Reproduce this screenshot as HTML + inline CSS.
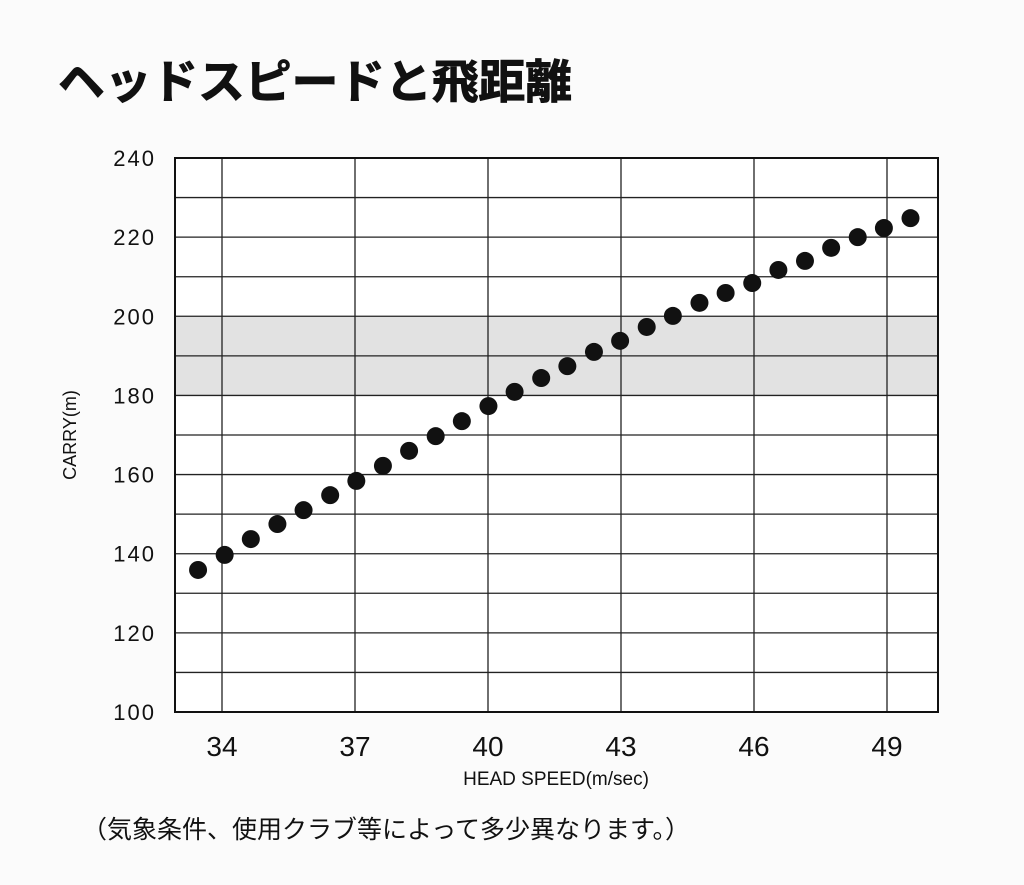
<!DOCTYPE html>
<html><head><meta charset="utf-8"><style>
body{margin:0;background:#fbfbfb;width:1024px;height:880px;overflow:hidden;font-family:"Liberation Sans","Noto Sans CJK JP",sans-serif;}
</style></head><body>
<svg width="1024" height="880">
<text x="58" y="98" font-size="46" font-weight="bold" textLength="514" lengthAdjust="spacingAndGlyphs" font-family="Liberation Sans, Noto Sans CJK JP, sans-serif" fill="#111" stroke="#111" stroke-width="1">ヘッドスピードと飛距離</text>
<g id="plot"></g>
<text x="76" y="435" font-size="18" fill="#111" transform="rotate(-90 76 435)" text-anchor="middle">CARRY(m)</text>
<text x="556" y="785" font-size="19" fill="#111" text-anchor="middle">HEAD SPEED(m/sec)</text>
<text x="82" y="838" font-size="25" fill="#111" font-family="Liberation Sans, Noto Sans CJK JP, sans-serif">（気象条件、使用クラブ等によって多少異なります。）</text>
</svg>
<script>
const speeds=[33.46,34.06,34.65,35.25,35.84,36.44,37.03,37.63,38.22,38.82,39.41,40.01,40.6,41.2,41.79,42.39,42.98,43.58,44.17,44.77,45.36,45.96,46.55,47.15,47.74,48.34,48.93,49.53];
const carry=[135.9,139.7,143.7,147.5,151,154.8,158.4,162.2,166,169.7,173.5,177.3,180.9,184.4,187.4,191,193.8,197.3,200.1,203.4,205.9,208.4,211.7,214,217.3,220,222.3,224.8];
const xTicks=[34,37,40,43,46,49];
const yTicks=[100,120,140,160,180,200,220,240];
const band=[180,200];
const L=175,R=938,T=158,B=712;
const x=v=>222+(v-34)*(887-222)/15;
const y=v=>B-(v-100)*(B-T)/140;
const g=document.getElementById('plot');
const NS='http://www.w3.org/2000/svg';
function mk(t,a){const e=document.createElementNS(NS,t);for(const k in a)e.setAttribute(k,a[k]);g.appendChild(e);return e;}
let e=mk('rect',{x:L,y:T,width:R-L,height:B-T,fill:'#fff'});


e=mk('rect',{x:L,y:y(band[1]),width:R-L,height:y(band[0])-y(band[1]),fill:'#e2e2e2'});


for(let v=110;v<240;v+=10){e=mk('line',{x1:L,x2:R,y1:y(v),y2:y(v),stroke:'#222','stroke-width':1.3});

}
xTicks.forEach(v=>{e=mk('line',{x1:x(v),x2:x(v),y1:T,y2:B,stroke:'#222','stroke-width':1.3});


e=mk('text',{x:x(v),y:756,'font-size':28,'text-anchor':'middle',fill:'#111'});e.textContent=v;

});
yTicks.forEach(v=>{e=mk('text',{x:156,y:y(v)+8,'font-size':22,'text-anchor':'end',fill:'#111','letter-spacing':'2'});e.textContent=v;

});
e=mk('rect',{x:L,y:T,width:R-L,height:B-T,fill:'none',stroke:'#111','stroke-width':2});


speeds.forEach((s,i)=>{e=mk('circle',{cx:x(s),cy:y(carry[i]),r:9,fill:'#111'});

});
</script>
</body></html>
